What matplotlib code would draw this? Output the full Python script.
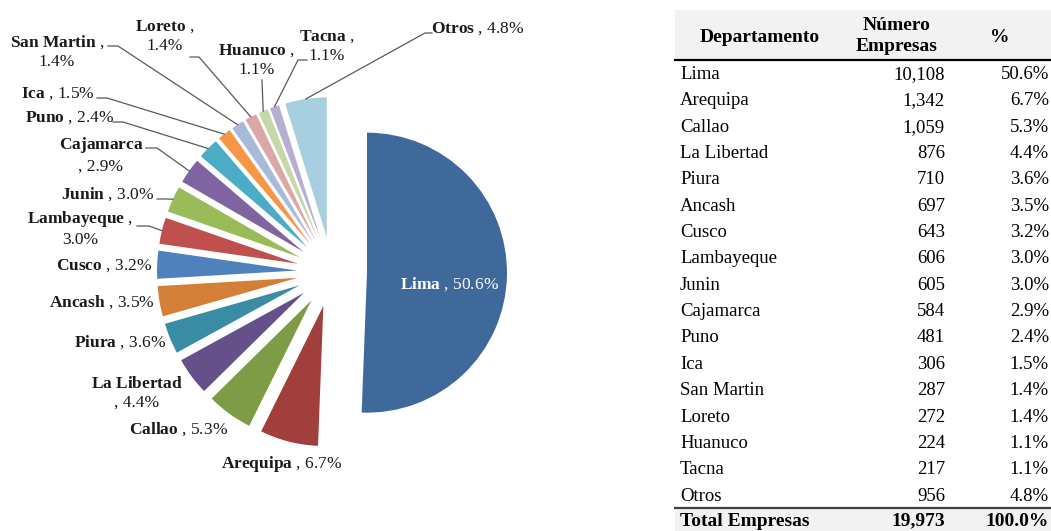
import matplotlib.pyplot as plt
from matplotlib.patches import Rectangle
import numpy as np

plt.rcParams['font.family'] = ['Liberation Serif', 'DejaVu Serif']
plt.rcParams['mathtext.fontset'] = 'custom'
plt.rcParams['mathtext.rm'] = 'Liberation Serif'
plt.rcParams['mathtext.bf'] = 'Liberation Serif:bold'
plt.rcParams['mathtext.it'] = 'Liberation Serif:italic'

departamentos = ["Lima", "Arequipa", "Callao", "La Libertad", "Piura", "Ancash",
                 "Cusco", "Lambayeque", "Junin", "Cajamarca", "Puno", "Ica",
                 "San Martin", "Loreto", "Huanuco", "Tacna", "Otros"]
empresas = [10108, 1342, 1059, 876, 710, 697, 643, 606, 605, 584, 481, 306,
            287, 272, 224, 217, 956]
porcentaje = [50.6, 6.7, 5.3, 4.4, 3.6, 3.5, 3.2, 3.0, 3.0, 2.9, 2.4, 1.5,
              1.4, 1.4, 1.1, 1.1, 4.8]
total_empresas = 19973
total_pct = 100.0

colores = ["#40699B", "#A03F3C", "#7E9B46", "#66508A", "#3A8CA4", "#D37F37",
           "#4F81BD", "#C0504D", "#9BBB59", "#8064A2", "#4BACC6", "#F79646",
           "#A9B9DA", "#DBA8A7", "#C6D8A8", "#B8AECF", "#A7CFDF"]

# pixel layout of the pie
CX, CY, R = 332, 272, 140.0
W, H = 1051, 531


def px(x, y):
    return (x - CX) / R, (CY - y) / R


fig = plt.figure(figsize=(W / 100, H / 100), dpi=100)
ax = fig.add_axes([0, 0, 560 / W, 1])
wedges, _ = ax.pie(empresas, colors=colores, startangle=90, counterclock=False,
                   explode=[0.25] * len(empresas), radius=1,
                   wedgeprops=dict(linewidth=0))
ax.set_xlim(-CX / R, (560 - CX) / R)
ax.set_ylim(-(H - CY) / R, CY / R)
ax.set_aspect('auto')
ax.axis('off')

# label placement: centre (px), line style, leader elbow points (px)
etiquetas = {
    "Lima": (450, 284, 0, None),
    "Arequipa": (282, 464, 0, None),
    "Callao": (179, 429, 0, None),
    "La Libertad": (137, 393, 2, None),
    "Piura": (120, 342, 0, None),
    "Ancash": (102, 302, 0, None),
    "Cusco": (104, 266, 0, None),
    "Lambayeque": (80, 229, 1, [(137, 226), (149, 226)]),
    "Junin": (108, 194, 0, [(157, 199), (166, 199)]),
    "Cajamarca": (101, 155, 2, [(146, 148), (157, 148)]),
    "Puno": (70, 118, 0, [(113, 122), (123, 122)]),
    "Ica": (58, 94, 0, [(97, 98), (107, 98)]),
    "San Martin": (57, 52, 1, [(108, 46), (118, 46)]),
    "Loreto": (165, 36, 1, [(190, 57), (199, 57)]),
    "Huanuco": (257, 60, 1, [(262, 80)]),
    "Tacna": (327, 46, 1, [(307, 60), (298, 60)]),
    "Otros": (478, 29, 0, [(432, 33), (425, 33)]),
}

for w, nombre, pct in zip(wedges, departamentos, porcentaje):
    x, y, estilo, codo = etiquetas[nombre]
    negrita = r"$\mathbf{" + nombre.replace(" ", r"\ ") + "}$"
    if estilo == 0:
        texto = f"{negrita} , {pct:.1f}%"
    elif estilo == 1:
        texto = f"{negrita} ,\n{pct:.1f}%"
    else:
        texto = f"{negrita}\n, {pct:.1f}%"
    color = "white" if nombre == "Lima" else "#1a1a1a"
    tx, ty = px(x, y)
    ax.text(tx, ty, texto, ha='center', va='center', fontsize=12.5,
            color=color, linespacing=1.25, clip_on=False)
    if codo:
        ang = np.deg2rad((w.theta1 + w.theta2) / 2)
        ex = w.center[0] + w.r * np.cos(ang)
        ey = w.center[1] + w.r * np.sin(ang)
        pts = [px(a, b) for a, b in codo] + [(ex, ey)]
        ax.plot([p[0] for p in pts], [p[1] for p in pts], color="#595959",
                lw=0.9, clip_on=False)

# table
at = fig.add_axes([0, 0, 1, 1])
at.set_xlim(0, W)
at.set_ylim(H, 0)
at.axis('off')

at.add_patch(Rectangle((675, 10), W - 675, 49, color="#F2F2F2", lw=0))
at.plot([675, W], [60, 60], color="black", lw=1.6)
at.text(760, 37, "Departamento", ha='center', va='center', fontsize=14,
        fontweight='bold')
at.text(897, 36, "Número\nEmpresas", ha='center', va='center', fontsize=14,
        fontweight='bold', linespacing=1.3)
at.text(1000, 37, "%", ha='center', va='center', fontsize=14,
        fontweight='bold')

y0, paso = 74.5, 26.35
for i, (nombre, n, pct) in enumerate(zip(departamentos, empresas, porcentaje)):
    y = y0 + i * paso
    at.text(680, y, nombre, ha='left', va='center', fontsize=13.5)
    at.text(945, y, f"{n:,}", ha='right', va='center', fontsize=13.5)
    at.text(1049, y, f"{pct:.1f}%", ha='right', va='center', fontsize=13.5)

at.add_patch(Rectangle((675, 509), W - 675, 22, color="#F2F2F2", lw=0))
at.plot([675, W], [508, 508], color="#404040", lw=1.6)
at.text(680, 521, "Total Empresas", ha='left', va='center', fontsize=14,
        fontweight='bold')
at.text(945, 521, f"{total_empresas:,}", ha='right', va='center',
        fontsize=14, fontweight='bold')
at.text(1049, 521, f"{total_pct:.1f}%", ha='right', va='center',
        fontsize=14, fontweight='bold')

fig.savefig("out.png", dpi=100)
